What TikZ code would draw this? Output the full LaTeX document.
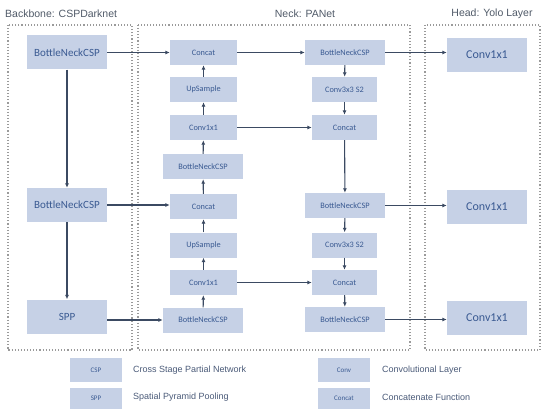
\documentclass[tikz,border=0pt]{standalone}
\usepackage{fontspec}
\setmainfont{Carlito}
\newfontfamily\arialf{Liberation Sans}
\usetikzlibrary{arrows.meta}
\definecolor{boxfill}{HTML}{C6D1E6}
\definecolor{boxtext}{HTML}{3A5A92}
\definecolor{arr}{HTML}{3B4A62}
\definecolor{framec}{HTML}{9A9A9A}
\definecolor{ttl}{HTML}{505A68}
\definecolor{legtext}{HTML}{4A5A78}
\begin{document}
\begin{tikzpicture}[x=1pt,y=-1pt,
  blk/.style={fill=boxfill, draw=none, text=boxtext, inner sep=0pt},
  big/.style={blk, minimum width=80pt, minimum height=34pt, font=\fontsize{11}{13}\selectfont},
  head/.style={big, font=\fontsize{12}{14}\selectfont},
  sm/.style={blk, minimum width=67pt, minimum height=25pt, font=\fontsize{8.3}{10}\selectfont},
  smw/.style={sm, minimum width=80pt},
  leg/.style={blk, minimum width=52pt, minimum height=24pt, font=\fontsize{7}{8}\selectfont},
  legt/.style={anchor=west, text=legtext, font=\arialf\fontsize{9}{11}\selectfont, inner sep=0pt},
  con/.style={draw=arr, line width=1.1pt, -{Latex[length=4.5pt,width=4pt]}},
  fr/.style={draw=framec, line width=1.1pt, dotted},
  title/.style={text=ttl, font=\arialf\fontsize{10.5}{12}\selectfont, inner sep=0pt}
]
\useasboundingbox (0,0) rectangle (545,409);

% frames
\draw[fr] (8,25) rectangle (132,350);
\draw[fr] (138,25) rectangle (410,350);
\draw[fr] (425,25) rectangle (540,350);

% titles
\node[title, anchor=west] (t1) at (5,14) {Backbone: CSPDarknet};
\node[title] (t2) at (305,14) {Neck: PANet};
\node[title] (t3) at (492,14) {Head: Yolo Layer};

% backbone
\node[big] (b1) at (67,52.5) {BottleNeckCSP};
\node[big] (b2) at (67,205) {BottleNeckCSP};
\node[big] (spp) at (67,316.5) {SPP};

% neck left
\node[sm] (c1) at (203.5,52.5) {Concat};
\node[sm] (u1) at (203.5,89.5) {UpSample};
\node[sm] (v1) at (203.5,127.5) {Conv1x1};
\node[smw] (n1) at (203,166.5) {BottleNeckCSP};
\node[sm] (c2) at (203.5,206.5) {Concat};
\node[sm] (u2) at (203.5,245) {UpSample};
\node[sm] (v2) at (203.5,282.5) {Conv1x1};
\node[smw] (n2) at (203,320) {BottleNeckCSP};

% neck right
\node[smw] (r1) at (345,52.5) {BottleNeckCSP};
\node[sm, minimum width=65pt] (s1) at (344.5,89.5) {Conv3x3 S2};
\node[sm, minimum width=65pt] (rc1) at (344.5,127.5) {Concat};
\node[smw] (r2) at (345,205.5) {BottleNeckCSP};
\node[sm, minimum width=65pt] (s2) at (344.5,245) {Conv3x3 S2};
\node[sm, minimum width=65pt] (rc2) at (344.5,282.5) {Concat};
\node[smw] (r3) at (345,319.5) {BottleNeckCSP};

% head
\node[head] (h1) at (487,55) {Conv1x1};
\node[head] (h2) at (487,207) {Conv1x1};
\node[head] (h3) at (487,318) {Conv1x1};

% backbone arrows
\draw[con] (b1) -- (b2);
\draw[con] (b2) -- (spp);
\draw[con] (b1) -- (c1);
\draw[con] (b2.east) -- (b2.east -| c2.west);
\draw[con] (spp.east |- n2) -- (n2.west);

% neck left upward
\draw[con] (u1) -- (c1);
\draw[con] (v1) -- (u1);
\draw[con] (n1) -- (v1);
\draw[con] (c2) -- (n1);
\draw[con] (u2) -- (c2);
\draw[con] (v2) -- (u2);
\draw[con] (n2) -- (v2);

% neck cross
\draw[con] (c1) -- (r1);
\draw[con] (v1) -- (rc1);
\draw[con] (v2) -- (rc2);

% neck right downward
\draw[con] (r1) -- (s1);
\draw[con] (s1) -- (rc1);
\draw[con] (rc1) -- (r2);
\draw[con] (r2) -- (s2);
\draw[con] (s2) -- (rc2);
\draw[con] (rc2) -- (r3);

% to head
\draw[con] (r1.east) -- (r1.east -| h1.west);
\draw[con] (r2.east) -- (r2.east -| h2.west);
\draw[con] (r3.east) -- (r3.east -| h3.west);

% legend
\node[leg] (lcsp) at (96,370) {CSP};
\node[leg, minimum height=21pt] (lspp) at (96,398.5) {SPP};
\node[leg] (lconv) at (344,370) {Conv};
\node[leg, minimum height=21pt] (lcat) at (344,398.5) {Concat};
\node[legt] (tcsp) at (133,370) {Cross Stage Partial Network};
\node[legt] (tspp) at (133,397) {Spatial Pyramid Pooling};
\node[legt] (tconv) at (382,370) {Convolutional Layer};
\node[legt] (tcat) at (382,397) {Concatenate Function};
\end{tikzpicture}
\end{document}
